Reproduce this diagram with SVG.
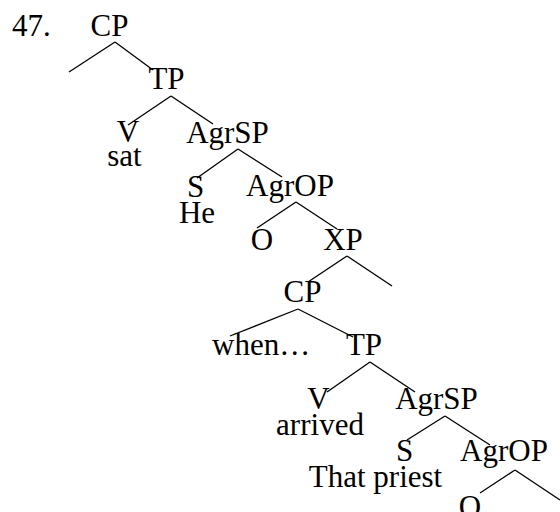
<svg xmlns="http://www.w3.org/2000/svg" width="560" height="512" viewBox="0 0 560 512">
<style>
text{font-family:"Liberation Serif","Times New Roman",serif;font-size:31px;fill:#000;text-anchor:middle}
.st{text-anchor:start}
#edges line{stroke:#000;stroke-width:1.3;fill:none}
</style>
<rect width="560" height="512" fill="#fff"/>
<g id="edges">
<line x1="115" y1="42" x2="69" y2="72"/>
<line x1="115" y1="42" x2="153" y2="70"/>
<line x1="171" y1="96" x2="128" y2="125"/>
<line x1="171" y1="96" x2="213" y2="124"/>
<line x1="238" y1="149" x2="197" y2="178"/>
<line x1="238" y1="149" x2="282" y2="177"/>
<line x1="296" y1="202" x2="257" y2="228"/>
<line x1="296" y1="202" x2="337" y2="229"/>
<line x1="347" y1="256" x2="308" y2="282"/>
<line x1="347" y1="256" x2="392" y2="286"/>
<line x1="298" y1="309" x2="230" y2="336"/>
<line x1="298" y1="309" x2="353" y2="337"/>
<line x1="370" y1="362" x2="327" y2="392"/>
<line x1="370" y1="362" x2="415" y2="392"/>
<line x1="445" y1="416" x2="407" y2="440"/>
<line x1="445" y1="416" x2="490" y2="445"/>
<line x1="515" y1="470" x2="480" y2="493"/>
<line x1="515" y1="470" x2="560" y2="500"/>
</g>
<g id="label47"><text class="st" x="12" y="36">47.</text></g>
<g id="cp1"><text x="109.5" y="36">CP</text></g>
<g id="tp1"><text x="166.5" y="89">TP</text></g>
<g id="v1"><text x="128" y="142">V</text><text x="124.5" y="166">sat</text></g>
<g id="agrsp1"><text x="227.5" y="143">AgrSP</text></g>
<g id="s1"><text x="195.5" y="197">S</text><text x="197" y="223">He</text></g>
<g id="agrop1"><text x="290" y="196">AgrOP</text></g>
<g id="o1"><text x="262" y="250">O</text></g>
<g id="xp"><text x="343" y="250">XP</text></g>
<g id="cp2"><text x="302.5" y="302">CP</text></g>
<g id="when"><text class="st" x="212" y="355">when…</text></g>
<g id="tp2"><text x="364" y="355">TP</text></g>
<g id="v2"><text x="318.5" y="409">V</text><text x="320" y="435">arrived</text></g>
<g id="agrsp2"><text x="436.5" y="409">AgrSP</text></g>
<g id="s2"><text x="404.5" y="461">S</text><text x="375.5" y="487">That priest</text></g>
<g id="agrop2"><text x="504" y="461">AgrOP</text></g>
<g id="o2"><text x="470" y="517">O</text></g>
</svg>
